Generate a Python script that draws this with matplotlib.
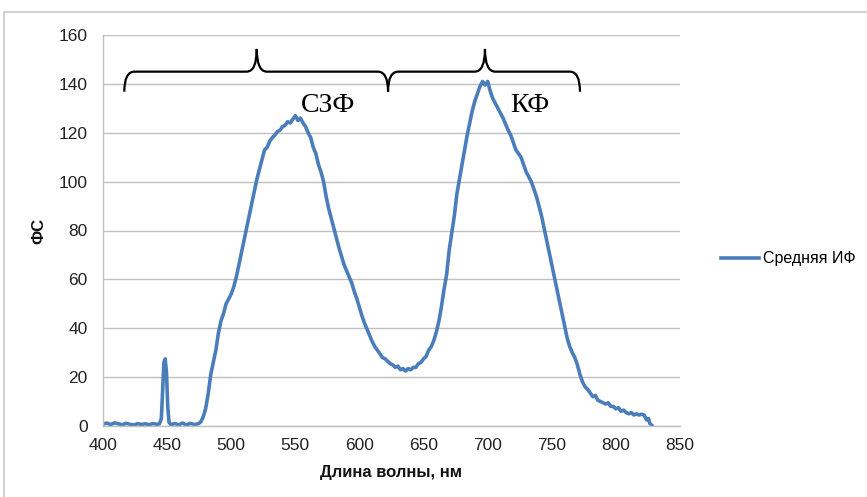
import matplotlib
matplotlib.use("Agg")
import matplotlib.pyplot as plt
from matplotlib.path import Path
import matplotlib.patches as mpatches

# wavelength (nm) and mean signal
wavelength = [
    400, 403, 406, 409, 412, 415, 418, 421, 424, 427, 430, 433, 436, 439, 442, 444,
    445.5, 446.5, 447.5, 448.5, 449.5, 450.5, 451.5, 453, 456, 459, 462, 465, 468,
    471, 474, 476, 478, 480, 482, 484, 486, 488, 490, 492, 494, 496, 498, 500, 502,
    504, 506, 508, 510, 512, 514, 516, 518, 520, 522, 524, 526, 528, 530, 532, 534,
    536, 538, 540, 542, 544, 546, 548, 550, 552, 554, 556, 558, 560, 562, 564, 566,
    568, 570, 572, 574, 576, 578, 580, 582, 584, 586, 588, 590, 592, 594, 596, 598,
    600, 602, 604, 606, 608, 610, 612, 614, 616, 618, 620, 622, 624, 626, 628, 630,
    632, 634, 636, 638, 640, 642, 644, 646, 648, 650, 652, 654, 656, 658, 660, 662,
    664, 666, 668, 670, 672, 674, 676, 678, 680, 682, 684, 686, 688, 690, 692, 694,
    696, 698, 700, 702, 704, 706, 708, 710, 712, 714, 716, 718, 720, 722, 724, 726,
    728, 730, 732, 734, 736, 738, 740, 742, 744, 746, 748, 750, 752, 754, 756, 758,
    760, 762, 764, 766, 768, 770, 772, 774, 776, 778, 780, 782, 784, 786, 788, 790,
    792, 794, 796, 798, 800, 802, 804, 806, 808, 810, 812, 814, 816, 818, 820, 822,
    823, 824, 825.5, 826.5, 828,
]
signal = [
    0.8, 1.2, 0.6, 1.3, 0.9, 0.5, 1.1, 0.7, 0.4, 1.0, 0.6, 0.9, 0.5, 1.0, 0.7, 0.9,
    3, 15, 26, 27.5, 22, 8, 1.5, 0.6, 1.0, 0.5, 1.2, 0.4, 1.1,
    0.6, 0.9, 1.5, 3.5, 7, 13, 21, 26, 31, 38, 43, 46, 50, 52, 54, 57,
    61, 66, 71, 76, 81, 86, 91, 96, 101, 105, 109, 113, 114, 116.5, 118, 119,
    120.5, 121, 122.5, 123, 124.5, 124, 125.5, 127, 125, 126, 124, 122.5, 120, 118, 114, 111.5,
    107, 104, 100, 94, 89, 85, 81, 77, 73, 69.5, 66, 63.5, 61, 58.5, 55, 52,
    48.5, 45, 42, 39.5, 37, 34.5, 32.5, 31, 29.5, 28, 27.5, 26.5, 25.5, 25, 24, 24.5,
    23, 23.5, 22.5, 23.5, 23, 24, 24, 25.5, 26, 27.5, 28.5, 31, 32.5, 35, 38.5, 43,
    49, 56, 62, 72, 79, 86, 95, 101, 107, 113, 119, 124, 129, 133, 136, 139,
    141, 139.5, 141, 137, 134, 132, 130, 128, 126, 123.5, 121, 119, 116, 113, 111.5, 110,
    107, 104, 102, 100, 97, 94, 90, 86, 81, 76, 71, 66, 61, 56, 51, 46,
    41, 36, 32.5, 30, 28, 25, 21, 18, 16, 15, 13.5, 12, 12.5, 10.5, 10, 9.5,
    9, 9.5, 8, 8, 7, 7.5, 6, 6.5, 5.5, 5, 5.5, 4.5, 5, 4.5, 4.8, 4.5,
    3.5, 2.5, 3, 1, 0.3,
]

# brace annotations: (start, tip, end, label, label x)
brace_starts = [416.6, 622.3]
brace_tips = [519.9, 697.9]
brace_ends = [622.3, 772.0]
brace_labels = ["СЗФ", "КФ"]
label_x = [575.5, 733.0]

SANS = ["Liberation Sans", "DejaVu Sans"]
GRID = "#C0C0C0"

fig = plt.figure(figsize=(8.67, 4.97), dpi=100)
ax = fig.add_axes([103 / 867, 1 - 426 / 497, 577 / 867, 391 / 497])

line, = ax.plot(wavelength, signal, color="#4A7EBB", linewidth=2.6,
                solid_joinstyle="round", label="Средняя ИФ")

ax.set_xlim(400, 850)
ax.set_ylim(0, 160)
ax.set_xticks(range(400, 851, 50))
ax.set_yticks(range(0, 161, 20))
ax.grid(axis="y", color=GRID, linewidth=1)
ax.set_axisbelow(True)
for side in ("top", "right"):
    ax.spines[side].set_visible(False)
for side in ("left", "bottom"):
    ax.spines[side].set_color(GRID)
    ax.spines[side].set_linewidth(1)
ax.tick_params(length=0, labelsize=12.5, colors="#222222")
ax.tick_params(axis="y", pad=11)
ax.tick_params(axis="x", pad=9)
for lbl in ax.get_xticklabels() + ax.get_yticklabels():
    lbl.set_family(SANS)

ax.set_xlabel("Длина волны, нм", family=SANS, fontweight="bold",
              fontsize=12, labelpad=8, color="#111111")
ax.set_ylabel("ФС", family=SANS, fontweight="bold", fontsize=12,
              labelpad=9, color="#111111")

# curly braces over the two bands
y_end, y_mid, y_tip, r = 136.8, 145.0, 154.3, 8
for x0, xm, x1, txt, tx in zip(brace_starts, brace_tips, brace_ends,
                               brace_labels, label_x):
    verts = [(x0, y_end), (x0, y_mid), (x0 + r, y_mid), (xm - r, y_mid),
             (xm, y_mid), (xm, y_tip),
             (xm, y_mid), (xm + r, y_mid), (x1 - r, y_mid),
             (x1, y_mid), (x1, y_end)]
    codes = [Path.MOVETO, Path.CURVE3, Path.CURVE3, Path.LINETO,
             Path.CURVE3, Path.CURVE3,
             Path.CURVE3, Path.CURVE3, Path.LINETO,
             Path.CURVE3, Path.CURVE3]
    ax.add_patch(mpatches.PathPatch(Path(verts, codes), facecolor="none",
                                    edgecolor="black", linewidth=1.6,
                                    clip_on=False, zorder=4))
    ax.text(tx, 131, txt, family=["Liberation Serif", "DejaVu Serif"],
            fontsize=20, ha="center", va="center", color="black")

fig.legend(handles=[line], loc="center left",
           bbox_to_anchor=(721 / 867, 1 - 259 / 497), frameon=False,
           prop={"family": SANS, "size": 11.5}, borderpad=0,
           borderaxespad=0, handlelength=2.4, handletextpad=0.2)

# outer chart frame (only top and left edges are inside the crop)
fig.patches.append(mpatches.Rectangle((4 / 867, -0.1), 1.2, 1.1 - 12 / 497,
                                      transform=fig.transFigure, fill=False,
                                      edgecolor="#C8C8C8", linewidth=1.2))

fig.savefig("out.png", dpi=100, facecolor="white")
